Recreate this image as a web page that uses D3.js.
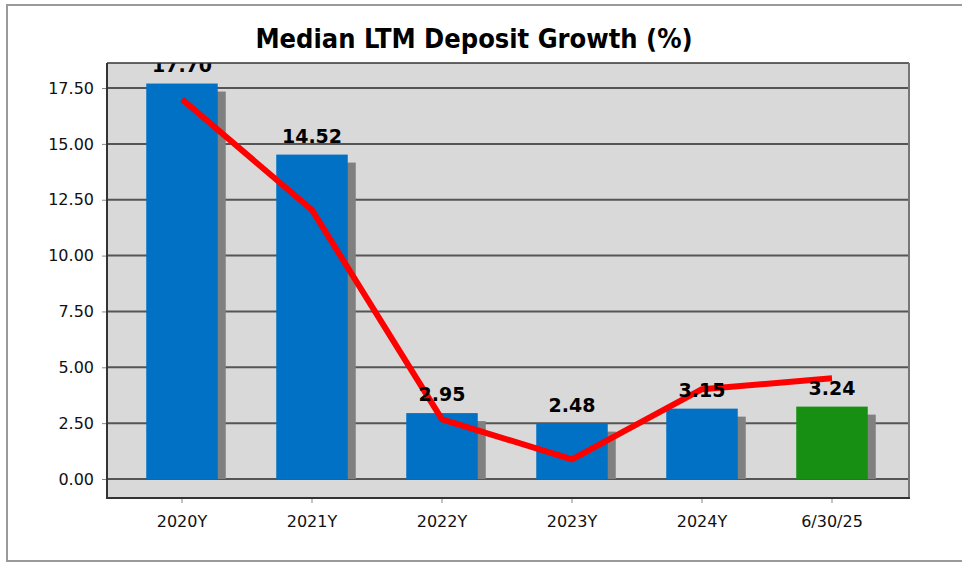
<!DOCTYPE html>
<html><head><meta charset="utf-8">
<script src="https://cdn.jsdelivr.net/npm/d3@7"></script>
<style>html,body{margin:0;padding:0;background:#fff;overflow:hidden}</style>
</head><body>
<script>
const categories = ["2020Y","2021Y","2022Y","2023Y","2024Y","6/30/25"];
const barValues = [17.70, 14.52, 2.95, 2.48, 3.15, 3.24];
const lineValues = [17.0, 12.04, 2.67, 0.88, 4.02, 4.51];
const yTicks = [0, 2.5, 5, 7.5, 10, 12.5, 15, 17.5];
const barColors = ["#0071c5","#0071c5","#0071c5","#0071c5","#0071c5","#178f12"];

const W = 962, H = 563;
const svg = d3.select("body").append("svg").attr("width", W).attr("height", H);

// outer frame
svg.append("path").attr("d", "M970,5 H7 V561 H970").attr("fill","none").attr("stroke","#9a9a9a").attr("stroke-width",2);

const P = {l:107, r:909, t:63, b:498};
const y = d3.scaleLinear().domain([-0.85, 18.62]).range([P.b, P.t]);
const x = d3.scaleBand().domain(categories).range([117, 897]).paddingInner(0.45).paddingOuter(0.225);

svg.append("defs").append("clipPath").attr("id","plotclip")
  .append("rect").attr("x",P.l).attr("y",P.t).attr("width",P.r-P.l).attr("height",P.b-P.t);

// plot background
svg.append("rect").attr("x",P.l).attr("y",P.t).attr("width",P.r-P.l).attr("height",P.b-P.t).attr("fill","#d9d9d9");

// gridlines
svg.append("g").selectAll("line").data(yTicks).join("line")
  .attr("x1",P.l).attr("x2",P.r).attr("y1",d=>y(d)).attr("y2",d=>y(d))
  .attr("stroke","#555").attr("stroke-width",2);

// y axis
const yAxis = d3.axisLeft(y).tickValues(yTicks).tickFormat(d3.format(".2f")).tickSize(4).tickPadding(8);
const ga = svg.append("g").attr("transform",`translate(${P.l-1},0)`).call(yAxis);
ga.select(".domain").remove();
ga.selectAll(".tick line").attr("stroke","#888");
ga.selectAll("text").attr("font-family","DejaVu Sans").attr("font-size",16).attr("fill","#111");

// x axis
const xAxis = d3.axisBottom(x).tickSize(4).tickPadding(13);
const gx = svg.append("g").attr("transform",`translate(0,${P.b+1})`).call(xAxis);
gx.select(".domain").remove();
gx.selectAll(".tick line").attr("stroke","#888");
gx.selectAll("text").attr("font-family","DejaVu Sans").attr("font-size",16).attr("fill","#111");

const plot = svg.append("g").attr("clip-path","url(#plotclip)");
// shadows
const bw = x.bandwidth();
plot.append("g").selectAll("rect").data(barValues).join("rect")
  .attr("x",(d,i)=>x(categories[i])+8).attr("y",d=>y(d)+8)
  .attr("width",bw).attr("height",d=>y(0)-y(d)-8).attr("fill","#808080");
// bars
plot.append("g").selectAll("rect").data(barValues).join("rect")
  .attr("x",(d,i)=>x(categories[i])).attr("y",d=>y(d))
  .attr("width",bw).attr("height",d=>y(0)-y(d)).attr("fill",(d,i)=>barColors[i]);

// line
const line = d3.line().x((d,i)=>x(categories[i])+bw/2).y(d=>y(d));
plot.append("path").datum(lineValues).attr("d",line).attr("fill","none")
  .attr("stroke","#ff0000").attr("stroke-width",6).attr("stroke-linejoin","round");

// labels
plot.append("g").selectAll("text").data(barValues).join("text")
  .attr("x",(d,i)=>x(categories[i])+bw/2).attr("y",d=>y(d)-12)
  .attr("text-anchor","middle").attr("font-family","DejaVu Sans").attr("font-weight","bold")
  .attr("font-size",19).attr("fill","#000").text(d=>d3.format(".2f")(d));

// plot border
svg.append("line").attr("x1",P.l).attr("x2",P.r).attr("y1",P.t).attr("y2",P.t).attr("stroke","#333").attr("stroke-width",1.5);
svg.append("line").attr("x1",P.r).attr("x2",P.r).attr("y1",P.t).attr("y2",P.b).attr("stroke","#777").attr("stroke-width",2);
svg.append("line").attr("x1",P.l).attr("x2",P.l).attr("y1",P.t).attr("y2",P.b+1).attr("stroke","#333").attr("stroke-width",2);
svg.append("line").attr("x1",P.l).attr("x2",P.r+1).attr("y1",P.b).attr("y2",P.b).attr("stroke","#333").attr("stroke-width",2);

// title
svg.append("text").attr("x",474).attr("y",48).attr("text-anchor","middle")
  .attr("font-family","DejaVu Sans Condensed, DejaVu Sans").attr("font-weight","bold")
  .attr("font-size",27).attr("fill","#000").text("Median LTM Deposit Growth (%)");
</script>
</body></html>
